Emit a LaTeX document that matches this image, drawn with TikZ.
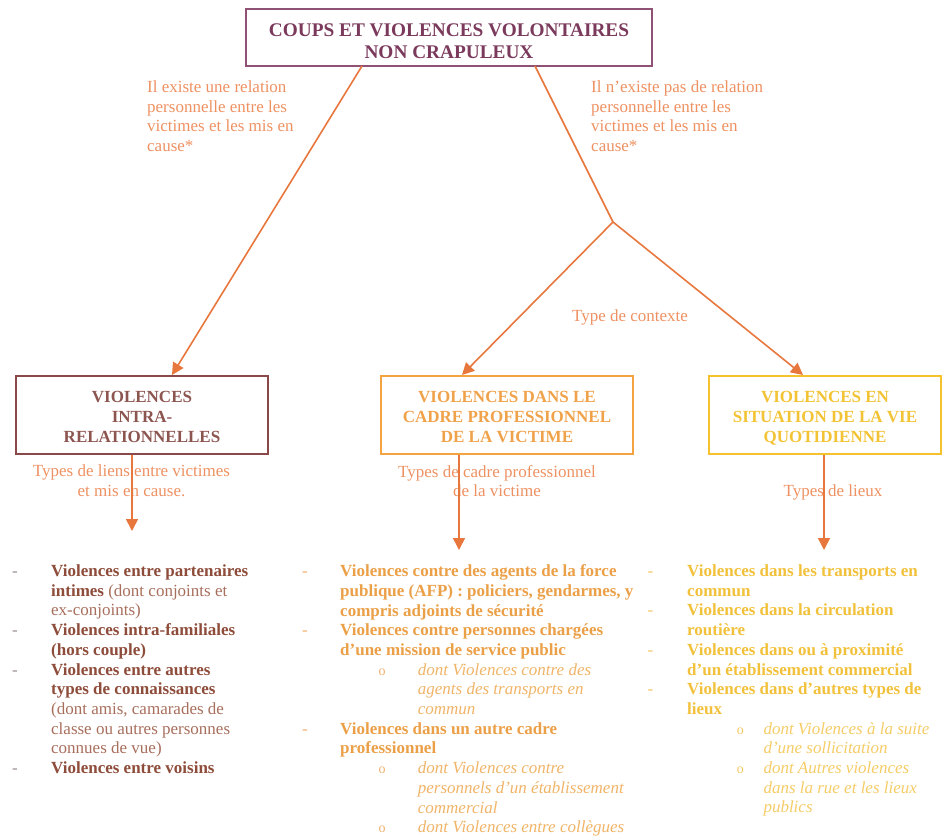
\documentclass[tikz,border=0pt]{standalone}
\usepackage{fontspec}
\setmainfont{Liberation Serif}
\usetikzlibrary{arrows.meta}
\definecolor{arrc}{HTML}{E8773E}
\definecolor{labc}{HTML}{EE9162}
\definecolor{titc}{HTML}{7B3A5C}
\definecolor{titb}{HTML}{8F5275}
\definecolor{Lbox}{HTML}{8A4848}
\definecolor{Ltxt}{HTML}{8C5550}
\definecolor{Lbold}{HTML}{8E4C3A}
\definecolor{Lreg}{HTML}{A86E5C}
\definecolor{Ldash}{HTML}{9A9090}
\definecolor{Mbox}{HTML}{F4A340}
\definecolor{Mtxt}{HTML}{F0A24A}
\definecolor{Mbold}{HTML}{EBA048}
\definecolor{Mit}{HTML}{F0B468}
\definecolor{Mdash}{HTML}{F0B070}
\definecolor{Rbox}{HTML}{F5C22E}
\definecolor{Rtxt}{HTML}{F2C335}
\definecolor{Rbold}{HTML}{F2C13C}
\definecolor{Rit}{HTML}{F5CC66}
\definecolor{Rdash}{HTML}{F3C860}
\newcommand\fa{\fontsize{17}{19.7}\selectfont}
\newcommand\ft{\fontsize{19.3}{21.8}\selectfont}
\newcommand\fb{\fontsize{17}{20}\selectfont}
\newcommand\bul{\mdseries\upshape\fontsize{14}{14}\selectfont o}
% dashes
\newcommand\dL{\llap{\makebox[39pt][l]{\textcolor{Ldash}{\mdseries-}}}}
\newcommand\dM{\llap{\makebox[38pt][l]{\textcolor{Mdash}{\mdseries-}}}}
\newcommand\dR{\llap{\makebox[39.7pt][l]{\textcolor{Rdash}{\mdseries-}}}}
% sub items
\newcommand\sM[1]{\hspace*{77.7pt}\llap{\makebox[39.4pt][l]{\textcolor{Mdash}{\bul}}}{\mdseries\itshape\color{Mit}#1}}
\newcommand\sMc[1]{\hspace*{77.7pt}{\mdseries\itshape\color{Mit}#1}}
\newcommand\sR[1]{\hspace*{76.3pt}\llap{\makebox[26.6pt][l]{\textcolor{Rdash}{\bul}}}{\mdseries\itshape\color{Rit}#1}}
\newcommand\sRc[1]{\hspace*{76.3pt}{\mdseries\itshape\color{Rit}#1}}
\begin{document}
\begin{tikzpicture}[x=1pt,y=-1pt,
  boxc/.style={draw, line width=2pt, inner sep=0pt, minimum height=78pt},
  boxtxt/.style={font=\fb\bfseries, align=center, inner sep=0pt, anchor=north},
  elab/.style={font=\fa, text=labc, inner sep=0pt},
  lst/.style={font=\fa, align=left, inner sep=0pt, anchor=north west},
  arr/.style={draw=arrc, line width=1.6pt, -{Triangle[length=12pt,width=12pt]}},
  seg/.style={draw=arrc, line width=1.6pt}]
\useasboundingbox (0,0) rectangle (948,839);

% title
\node[draw=titb, line width=2pt, inner sep=0pt, minimum width=406pt, minimum height=57pt] (top) at (449,37.5) {};
\node[font=\ft\bfseries, text=titc, align=center, inner sep=0pt, anchor=north] (toptxt) at (449,23.7)
  {COUPS ET VIOLENCES VOLONTAIRES\\NON CRAPULEUX};

% three boxes
\node[boxc, draw=Lbox, minimum width=252pt] (lb) at (142,415) {};
\node[boxtxt, text=Ltxt] (lbtxt) at (142,391.3) {VIOLENCES\\INTRA-\\RELATIONNELLES};
\node[boxc, draw=Mbox, minimum width=252pt] (mb) at (507,415) {};
\node[boxtxt, text=Mtxt] (mbtxt) at (507,391.3) {VIOLENCES DANS LE\\CADRE PROFESSIONNEL\\DE LA VICTIME};
\node[boxc, draw=Rbox, minimum width=232pt] (rb) at (825,415) {};
\node[boxtxt, text=Rtxt] (rbtxt) at (825,391.3) {VIOLENCES EN\\SITUATION DE LA VIE\\QUOTIDIENNE};

% edge labels
\node[elab, align=left, anchor=north west] (lab1) at (147,80.4)
  {Il existe une relation\\personnelle entre les\\victimes et les mis en\\cause*};
\node[elab, align=left, anchor=north west] (lab2) at (591,80.4)
  {Il n’existe pas de relation\\personnelle entre les\\victimes et les mis en\\cause*};
\node[elab, anchor=north] (lab3) at (630,309.7) {Type de contexte};
\node[elab, align=center, anchor=north] (lab4) at (131.5,464.9) {Types de liens entre victimes\\et mis en cause.};
\node[elab, align=center, anchor=north] (lab5) at (497,464.9) {Types de cadre professionnel\\de la victime};
\node[elab, anchor=north] (lab6) at (833,484.9) {Types de lieux};

% lists
\node[lst, text=Lbold] (l1) at (51,564.5) {%
\dL\textbf{Violences entre partenaires}\\
\textbf{intimes} {\color{Lreg}(dont conjoints et}\\
{\color{Lreg}ex-conjoints)}\\
\dL\textbf{Violences intra-familiales}\\
\textbf{(hors couple)}\\
\dL\textbf{Violences entre autres}\\
\textbf{types de connaissances}\\
{\color{Lreg}(dont amis, camarades de}\\
{\color{Lreg}classe ou autres personnes}\\
{\color{Lreg}connues de vue)}\\
\dL\textbf{Violences entre voisins}};

\node[lst, text=Mbold, font=\fa\bfseries] (l2) at (340,564.5) {%
\dM Violences contre des agents de la force\\
publique (AFP) : policiers, gendarmes, y\\
compris adjoints de sécurité\\
\dM Violences contre personnes chargées\\
d’une mission de service public\\
\sM{dont Violences contre des}\\
\sMc{agents des transports en}\\
\sMc{commun}\\
\dM Violences dans un autre cadre\\
professionnel\\
\sM{dont Violences contre}\\
\sMc{personnels d’un établissement}\\
\sMc{commercial}\\
\sM{dont Violences entre collègues}};

\node[lst, text=Rbold, font=\fa\bfseries] (l3) at (687,564.5) {%
\dR Violences dans les transports en\\
commun\\
\dR Violences dans la circulation\\
routière\\
\dR Violences dans ou à proximité\\
d’un établissement commercial\\
\dR Violences dans d’autres types de\\
lieux\\
\sR{dont Violences à la suite}\\
\sRc{d’une sollicitation}\\
\sR{dont Autres violences}\\
\sRc{dans la rue et les lieux}\\
\sRc{publics}};

% connectors
\coordinate (t1) at (362,66);
\coordinate (t2) at (535,66);
\coordinate (j) at (613,222);
\coordinate (e1) at (132,531);
\coordinate (e2) at (459,550);
\coordinate (e3) at (824,550);
\draw[arr] (t1) -- ([xshift=30pt]lb.north);
\draw[seg] (t2) -- (j);
\draw[arr] (j) -- ([xshift=-45pt]mb.north);
\draw[arr] (j) -- ([xshift=-22pt]rb.north);
\draw[arr] (lb.south -| e1) -- (e1);
\draw[arr] (mb.south -| e2) -- (e2);
\draw[arr] (rb.south -| e3) -- (e3);
\end{tikzpicture}
\end{document}
